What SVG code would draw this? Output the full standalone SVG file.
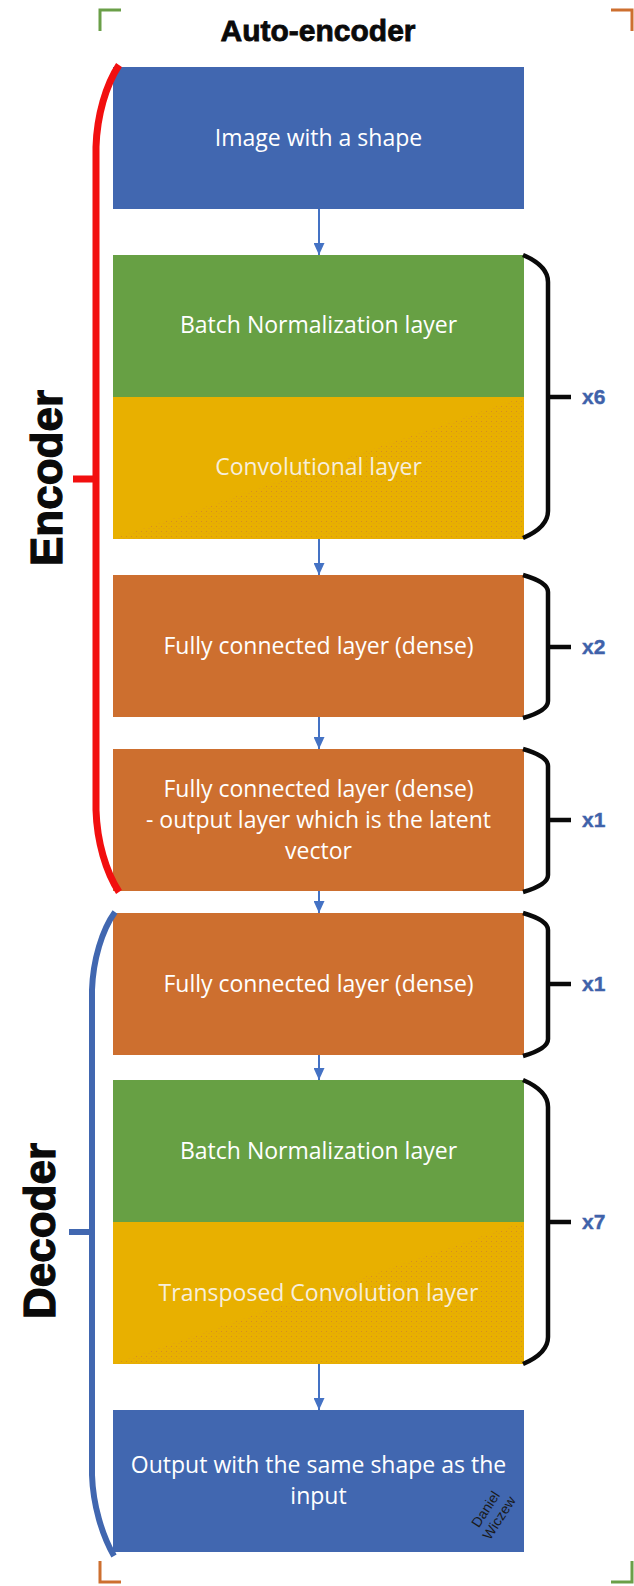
<svg xmlns="http://www.w3.org/2000/svg" width="634" height="1586" viewBox="0 0 634 1586">
<style>
.box{stroke:none}
.blue{fill:#4167B0}
.green{fill:#67A044}
.yellow{fill:#E8B000}
.orange{fill:#CD6F2F}
.lbl{font-family:"Open Sans","Noto Sans",sans-serif;font-size:23px;fill:#FFFFFF;text-anchor:middle}
.ylbl{fill:#F7EEDC}
.big{font-family:"Liberation Sans",Arial,sans-serif;font-weight:bold;fill:#0A0A0A;text-anchor:middle;stroke:#0A0A0A}
.rep{font-family:"Liberation Sans",Arial,sans-serif;font-weight:bold;font-size:21px;fill:#3F62AA;stroke:#3F62AA;stroke-width:0.4}
.brace{fill:none;stroke:#0A0A0A;stroke-width:4.5}
.conn{stroke:#4472C4;stroke-width:2;fill:none}
.wm{font-family:"Liberation Sans",Arial,sans-serif;font-size:14px;fill:#1A1A1A}
</style>
<defs>
<marker id="ah" markerWidth="12" markerHeight="11" refX="12" refY="5.5" orient="auto" markerUnits="userSpaceOnUse" viewBox="0 0 12 11">
<path d="M0,0 L12,5.5 L0,11 Z" fill="#4472C4"/>
</marker>
<pattern id="dots" width="5" height="5" patternUnits="userSpaceOnUse">
<rect x="1" y="1" width="1" height="1" fill="#C9703A"/>
<rect x="3.5" y="3" width="1" height="1" fill="#D98A30"/>
</pattern>
</defs>

<rect width="634" height="1586" fill="#FFFFFF"/>

<g id="corners" fill="none" stroke-width="3">
<path d="M100,31 L100,10 L121,10" stroke="#6A9F48"/>
<path d="M611,10 L632,10 L632,31" stroke="#CD6F2F"/>
<path d="M100,1561 L100,1582 L121,1582" stroke="#CD6F2F"/>
<path d="M611,1582 L632,1582 L632,1561" stroke="#6A9F48"/>
</g>

<g id="title"><text class="big" x="318" y="41" font-size="30" stroke-width="0.8">Auto-encoder</text></g>

<g id="connectors">
<line class="conn" x1="319" y1="209" x2="319" y2="255" marker-end="url(#ah)"/>
<line class="conn" x1="319" y1="539" x2="319" y2="575" marker-end="url(#ah)"/>
<line class="conn" x1="319" y1="717" x2="319" y2="749" marker-end="url(#ah)"/>
<line class="conn" x1="319" y1="891" x2="319" y2="913" marker-end="url(#ah)"/>
<line class="conn" x1="319" y1="1055" x2="319" y2="1080" marker-end="url(#ah)"/>
<line class="conn" x1="319" y1="1364" x2="319" y2="1410" marker-end="url(#ah)"/>
</g>

<g id="input">
<rect class="box blue" x="113" y="67" width="411" height="142"/>
<text class="lbl" x="318.5" y="146">Image with a shape</text>
</g>
<g id="enc-bn">
<rect class="box green" x="113" y="255" width="411" height="142"/>
<text class="lbl" x="318.5" y="333">Batch Normalization layer</text>
</g>
<g id="enc-conv">
<rect class="box yellow" x="113" y="397" width="411" height="142"/>
<polygon points="524,397 524,539 113,539" fill="url(#dots)" opacity="0.55"/>
<text class="lbl ylbl" x="318.5" y="475">Convolutional layer</text>
</g>
<g id="enc-dense">
<rect class="box orange" x="113" y="575" width="411" height="142"/>
<text class="lbl" x="318.5" y="654">Fully connected layer (dense)</text>
</g>
<g id="latent">
<rect class="box orange" x="113" y="749" width="411" height="142"/>
<text class="lbl" x="318.5" y="797">Fully connected layer (dense)</text>
<text class="lbl" x="318.5" y="828">- output layer which is the latent</text>
<text class="lbl" x="318.5" y="859">vector</text>
</g>
<g id="dec-dense">
<rect class="box orange" x="113" y="913" width="411" height="142"/>
<text class="lbl" x="318.5" y="992">Fully connected layer (dense)</text>
</g>
<g id="dec-bn">
<rect class="box green" x="113" y="1080" width="411" height="142"/>
<text class="lbl" x="318.5" y="1159">Batch Normalization layer</text>
</g>
<g id="dec-tconv">
<rect class="box yellow" x="113" y="1222" width="411" height="142"/>
<polygon points="524,1222 524,1364 113,1364" fill="url(#dots)" opacity="0.55"/>
<text class="lbl ylbl" x="318.5" y="1301">Transposed Convolution layer</text>
</g>
<g id="output">
<rect class="box blue" x="113" y="1410" width="411" height="142"/>
<text class="lbl" x="318.5" y="1473">Output with the same shape as the</text>
<text class="lbl" x="318.5" y="1504">input</text>
<g transform="translate(493,1514) rotate(-57)">
<text class="wm" x="0" y="-4" text-anchor="middle">Daniel</text>
<text class="wm" x="0" y="12" text-anchor="middle">Wiczew</text>
</g>
</g>

<g id="brace-x6">
<path class="brace" d="M523,255 C537,261 548,270 548,282 L548,511 C548,523 537,532 523,538 M548,397 L571,397"/>
<text class="rep" x="582" y="404">x6</text>
</g>
<g id="brace-x2">
<path class="brace" d="M523,575 C537,579 548,584 548,592 L548,701 C548,709 537,714 523,718 M548,647 L571,647"/>
<text class="rep" x="582" y="654">x2</text>
</g>
<g id="brace-x1a">
<path class="brace" d="M523,749 C537,753 548,758 548,766 L548,875 C548,883 537,888 523,892 M548,820 L571,820"/>
<text class="rep" x="582" y="827">x1</text>
</g>
<g id="brace-x1b">
<path class="brace" d="M523,913 C537,917 548,922 548,930 L548,1039 C548,1047 537,1052 523,1056 M548,984 L571,984"/>
<text class="rep" x="582" y="991">x1</text>
</g>
<g id="brace-x7">
<path class="brace" d="M523,1080 C537,1086 548,1095 548,1107 L548,1337 C548,1349 537,1358 523,1364 M548,1222 L571,1222"/>
<text class="rep" x="582" y="1229">x7</text>
</g>

<g id="encoder">
<path d="M119,65 C106,85 97,115 96,147 L96,810 C97,842 106,872 119,892 M73,479 L96,479" fill="none" stroke="#F20F0F" stroke-width="7"/>
<text class="big" font-size="44" stroke-width="1.2" transform="translate(62,478) rotate(-90)">Encoder</text>
</g>
<g id="decoder">
<path d="M115,912 C102,930 93,960 92,990 L92,1475 C93,1505 102,1535 114,1556 M69,1232 L92,1232" fill="none" stroke="#4167B0" stroke-width="6"/>
<text class="big" font-size="44" stroke-width="1.2" transform="translate(55,1231) rotate(-90)">Decoder</text>
</g>
</svg>
